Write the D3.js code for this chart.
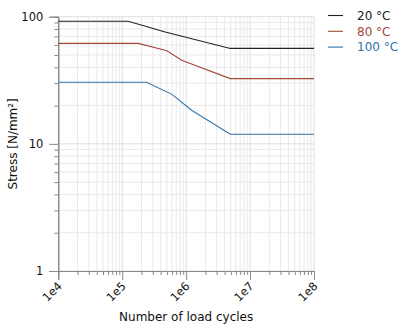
<!DOCTYPE html>
<html><head><meta charset="utf-8">
<script src="https://cdn.jsdelivr.net/npm/d3@7"></script>
<style>body{margin:0;background:#fff}svg{display:block}text{font-family:"DejaVu Sans",Verdana,sans-serif}</style>
</head><body>
<script>
const seriesNames = ["20 °C", "80 °C", "100 °C"];
const seriesColors = ["#222222", "#a5473b", "#2f74ad"];
const cycles20 = [1e4, 1.24e5, 4.7e5, 4.9e6, 1e8];
const stress20 = [92, 92, 75.7, 56.3, 56.3];
const cycles80 = [1e4, 1.79e5, 5e5, 8.5e5, 4.9e6, 1e8];
const stress80 = [61.7, 61.7, 53.9, 45.5, 32.6, 32.6];
const cycles100 = [1e4, 2.4e5, 6e5, 1.22e6, 4.9e6, 1e8];
const stress100 = [30.5, 30.5, 24.5, 18.4, 11.9, 11.9];
const xTickLabels = ["1e4", "1e5", "1e6", "1e7", "1e8"];
const xTickValues = [1e4, 1e5, 1e6, 1e7, 1e8];
const yTickLabels = ["1", "10", "100"];
const yTickValues = [1, 10, 100];

const W = 400, H = 332;
const m = {l: 58.3, r: 86, t: 16.7, b: 61};
const svg = d3.select("body").append("svg").attr("width", W).attr("height", H);
const x = d3.scaleLog().domain([1e4, 1e8]).range([m.l, W - m.r]);
const y = d3.scaleLog().domain([1, 100]).range([H - m.b, m.t]);

const xMinor = [], yMinor = [];
for (let e = 4; e < 8; e++) for (let k = 2; k <= 9; k++) xMinor.push(k * Math.pow(10, e));
for (let e = 0; e < 2; e++) for (let k = 2; k <= 9; k++) yMinor.push(k * Math.pow(10, e));

const g = svg.append("g");
g.selectAll(".gxm").data(xMinor).join("line")
  .attr("x1", d => x(d)).attr("x2", d => x(d)).attr("y1", y(1)).attr("y2", y(100))
  .attr("stroke", "#e9e9e9").attr("stroke-width", 1);
g.selectAll(".gym").data(yMinor).join("line")
  .attr("y1", d => y(d)).attr("y2", d => y(d)).attr("x1", x(1e4)).attr("x2", x(1e8))
  .attr("stroke", "#e9e9e9").attr("stroke-width", 1);
g.selectAll(".gxM").data(xTickValues).join("line")
  .attr("x1", d => x(d)).attr("x2", d => x(d)).attr("y1", y(1)).attr("y2", y(100))
  .attr("stroke", "#dddddd").attr("stroke-width", 1);
g.selectAll(".gyM").data(yTickValues).join("line")
  .attr("y1", d => y(d)).attr("y2", d => y(d)).attr("x1", x(1e4)).attr("x2", x(1e8))
  .attr("stroke", "#dddddd").attr("stroke-width", 1);

const axisColor = "#8a8a8a";
const xAxisMinor = d3.axisBottom(x).tickValues(xMinor).tickSize(4).tickFormat("");
const xAxisMajor = d3.axisBottom(x).tickValues(xTickValues).tickSize(9).tickFormat((d, i) => xTickLabels[i]);
const yAxisMinor = d3.axisLeft(y).tickValues(yMinor).tickSize(4).tickFormat("");
const yAxisMajor = d3.axisLeft(y).tickValues(yTickValues).tickSize(9).tickFormat((d, i) => yTickLabels[i]);

function style(sel) {
  sel.selectAll("path").attr("stroke", axisColor);
  sel.selectAll("line").attr("stroke", axisColor);
}
const gx1 = svg.append("g").attr("transform", `translate(0,${y(1)})`).call(xAxisMinor); style(gx1);
const gx2 = svg.append("g").attr("transform", `translate(0,${y(1)})`).call(xAxisMajor); style(gx2);
gx2.selectAll("text").attr("font-size", 11.5).attr("fill", "#111")
  .attr("text-anchor", "end").attr("dy", "0.35em").attr("y", 0).attr("x", 0)
  .attr("transform", `translate(1,13) rotate(-45)`);
const gy1 = svg.append("g").attr("transform", `translate(${x(1e4)},0)`).call(yAxisMinor); style(gy1);
const gy2 = svg.append("g").attr("transform", `translate(${x(1e4)},0)`).call(yAxisMajor); style(gy2);
gy2.selectAll("text").attr("font-size", 11.5).attr("fill", "#111").attr("x", -15);
svg.selectAll(".domain").attr("stroke", axisColor);

const series = [
  {c: cycles20, s: stress20},
  {c: cycles80, s: stress80},
  {c: cycles100, s: stress100}
];
const line = d3.line().x(d => x(d[0])).y(d => y(d[1]));
series.forEach((sr, i) => {
  svg.append("path").datum(sr.c.map((c, j) => [c, sr.s[j]]))
    .attr("d", line).attr("fill", "none").attr("stroke", seriesColors[i]).attr("stroke-width", 1.1);
});

seriesNames.forEach((n, i) => {
  const ly = 15.5 + i * 15.8;
  svg.append("line").attr("x1", 328).attr("x2", 343).attr("y1", ly).attr("y2", ly)
    .attr("stroke", seriesColors[i]).attr("stroke-width", 1.1);
  svg.append("text").attr("x", 357).attr("y", ly).attr("dy", "0.36em")
    .attr("font-size", 12).attr("fill", seriesColors[i]).text(n);
});

svg.append("text").attr("x", (x(1e4) + x(1e8)) / 2).attr("y", 321).attr("text-anchor", "middle")
  .attr("font-size", 12).attr("fill", "#111").text("Number of load cycles");
svg.append("text").attr("transform", `translate(17,${(y(1) + y(100)) / 2}) rotate(-90)`)
  .attr("text-anchor", "middle").attr("font-size", 12).attr("fill", "#111").text("Stress [N/mm²]");
</script>
</body></html>
